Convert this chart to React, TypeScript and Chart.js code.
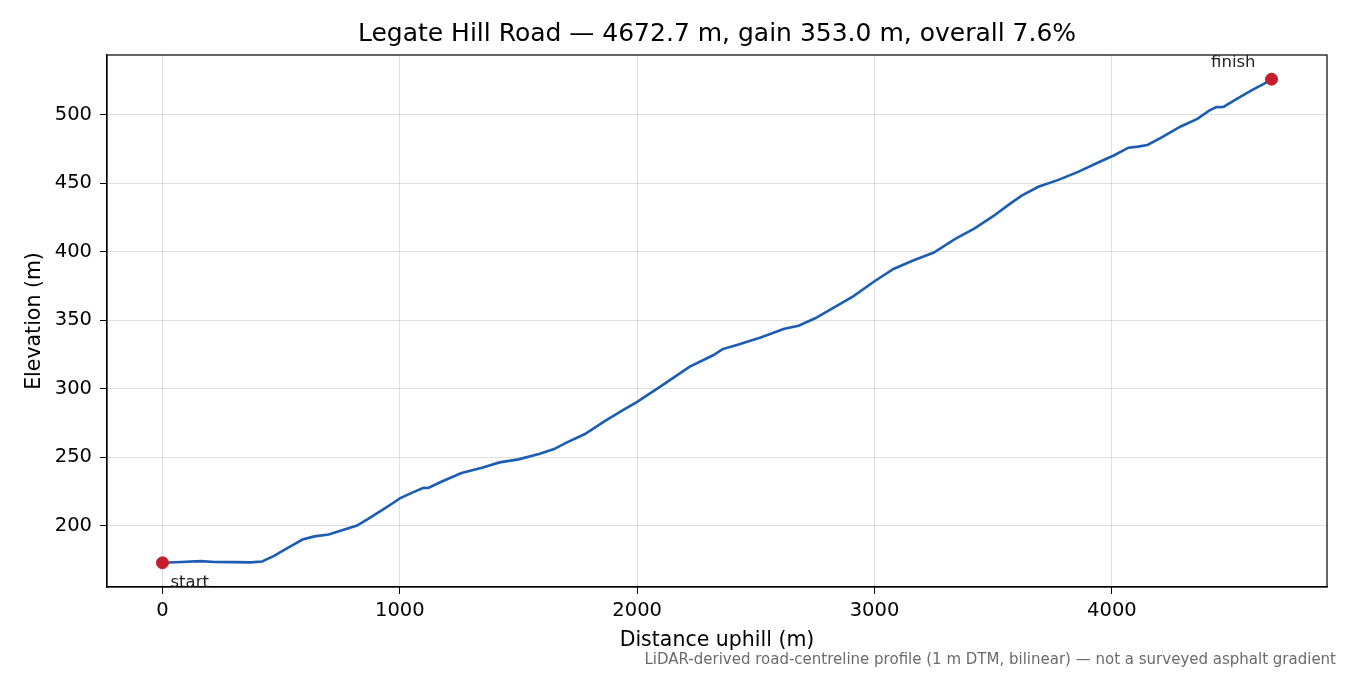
import React, { useEffect, useRef } from 'react';
import Chart from 'chart.js/auto';

const distances = [
  0, 80, 160, 220, 300, 370, 420, 470, 530, 590, 640, 700, 760, 820, 870, 930, 970, 1000,
  1050, 1100, 1120, 1170, 1260, 1350, 1420, 1500, 1590, 1650, 1700, 1780, 1860, 1940, 2000,
  2110, 2220, 2320, 2360, 2420, 2520, 2620, 2680, 2750, 2830, 2910, 3000, 3080, 3160, 3250,
  3340, 3420, 3500, 3570, 3620, 3690, 3775, 3860, 3940, 4010, 4070, 4110, 4150, 4210, 4250,
  4290, 4360, 4410, 4440, 4470, 4530, 4590, 4640, 4672.7,
];
const elevations = [
  173.0, 173.6, 174.2, 173.6, 173.5, 173.3, 174.0, 178.0, 184.0, 190.0, 192.3, 193.6, 197.0,
  200.2, 205.5, 212.0, 216.5, 220.0, 224.0, 227.8, 227.6, 231.8, 238.5, 242.6, 246.3, 248.5,
  252.6, 256.0, 260.6, 267.0, 276.0, 284.5, 290.5, 303.0, 316.0, 324.5, 329.0, 332.0, 337.5,
  343.8, 346.0, 351.5, 359.5, 367.5, 378.5, 387.5, 393.5, 399.5, 409.5, 417.0, 426.0, 435.0,
  441.0, 447.5, 452.5, 458.5, 465.0, 470.5, 476.0, 476.8, 478.0, 483.5, 487.5, 491.5, 497.0,
  503.0, 505.6, 505.8, 512.0, 518.0, 522.5, 526.0,
];
const xTicks = [0, 1000, 2000, 3000, 4000];
const yTicks = [200, 250, 300, 350, 400, 450, 500];
const endLabels = ['start', 'finish'];

const titleText = 'Legate Hill Road — 4672.7 m, gain 353.0 m, overall 7.6%';
const footnote =
  'LiDAR-derived road-centreline profile (1 m DTM, bilinear) — not a surveyed asphalt gradient';

const FONT = '"DejaVu Sans", sans-serif';

const App: React.FC = () => {
  const canvasRef = useRef<HTMLCanvasElement | null>(null);

  useEffect(() => {
    document.body.style.margin = '0';
    const canvas = canvasRef.current;
    if (!canvas) return;
    const ctx = canvas.getContext('2d');
    if (!ctx) return;

    const line = distances.map((d, i) => ({ x: d, y: elevations[i] }));
    const last = distances.length - 1;
    const ends = [
      { x: distances[0], y: elevations[0] },
      { x: distances[last], y: elevations[last] },
    ];

    const xSpan = distances[last] - distances[0];
    const eMin = Math.min(...elevations);
    const eMax = Math.max(...elevations);
    const ySpan = eMax - eMin;

    const decor = {
      id: 'decor',
      afterDraw(chart: any) {
        const c = chart.ctx;
        const { left, right, top, bottom } = chart.chartArea;
        const sx = chart.scales.x;
        const sy = chart.scales.y;
        c.save();
        c.strokeStyle = '#000';
        c.lineWidth = 1.2;
        c.strokeRect(left, top, right - left, bottom - top);

        c.fillStyle = '#000';
        c.font = `25px ${FONT}`;
        c.textAlign = 'center';
        c.textBaseline = 'middle';
        c.fillText(titleText, (left + right) / 2, 34);

        c.fillStyle = '#222';
        c.font = `16.5px ${FONT}`;
        c.textBaseline = 'alphabetic';
        const p0 = ends[0];
        c.textAlign = 'left';
        c.fillText(endLabels[0], sx.getPixelForValue(p0.x) + 8, sy.getPixelForValue(p0.y) + 24);
        const p1 = ends[1];
        c.textAlign = 'right';
        c.fillText(endLabels[1], sx.getPixelForValue(p1.x) - 16, sy.getPixelForValue(p1.y) - 12);

        c.fillStyle = '#6b6b6b';
        c.font = `15px ${FONT}`;
        c.textAlign = 'right';
        c.textBaseline = 'middle';
        c.fillText(footnote, 1336, 660);
        c.restore();
      },
    };

    const chart = new Chart(ctx, {
      type: 'scatter',
      data: {
        datasets: [
          {
            data: line,
            showLine: true,
            borderColor: '#1c5db3',
            borderWidth: 2.6,
            pointRadius: 0,
            order: 2,
          },
          {
            data: ends,
            backgroundColor: '#c41e2e',
            borderColor: '#c41e2e',
            pointRadius: 6,
            order: 1,
          },
        ],
      },
      options: {
        responsive: false,
        animation: false,
        layout: { padding: { top: 55, right: 23, left: 0, bottom: 0 } },
        plugins: {
          legend: { display: false },
          tooltip: { enabled: false },
          title: { display: false },
        },
        scales: {
          x: {
            type: 'linear',
            min: distances[0] - xSpan * 0.05,
            max: distances[last] + xSpan * 0.05,
            afterBuildTicks: (s: any) => {
              s.ticks = xTicks.map((v) => ({ value: v }));
            },
            afterFit: (s: any) => {
              s.height = 88;
            },
            ticks: {
              color: '#000',
              font: { family: FONT, size: 19.5 },
              padding: 5,
              maxRotation: 0,
              callback: (v: any) => String(v),
            },
            grid: {
              color: 'rgba(0,0,0,0.12)',
              tickColor: '#000',
              tickLength: 7,
            },
            border: { color: '#000', width: 1.2 },
            title: {
              display: true,
              text: 'Distance uphill (m)',
              color: '#000',
              font: { family: FONT, size: 20.5 },
              padding: 22,
            },
          },
          y: {
            type: 'linear',
            min: eMin - ySpan * 0.05,
            max: eMax + ySpan * 0.05,
            afterBuildTicks: (s: any) => {
              s.ticks = yTicks.map((v) => ({ value: v }));
            },
            afterFit: (s: any) => {
              s.width = 107;
            },
            ticks: {
              color: '#000',
              font: { family: FONT, size: 19.5 },
              padding: 8,
              callback: (v: any) => String(v),
            },
            grid: {
              color: 'rgba(0,0,0,0.12)',
              tickColor: '#000',
              tickLength: 7,
            },
            border: { color: '#000', width: 1.2 },
            title: {
              display: true,
              text: 'Elevation (m)',
              color: '#000',
              font: { family: FONT, size: 20.5 },
              padding: 22,
            },
          },
        },
      },
      plugins: [decor],
    });

    return () => {
      chart.destroy();
    };
  }, []);

  return (
    <div style={{ width: 1350, height: 675, background: '#fff' }}>
      <canvas ref={canvasRef} width={1350} height={675}></canvas>
    </div>
  );
};

export default App;
